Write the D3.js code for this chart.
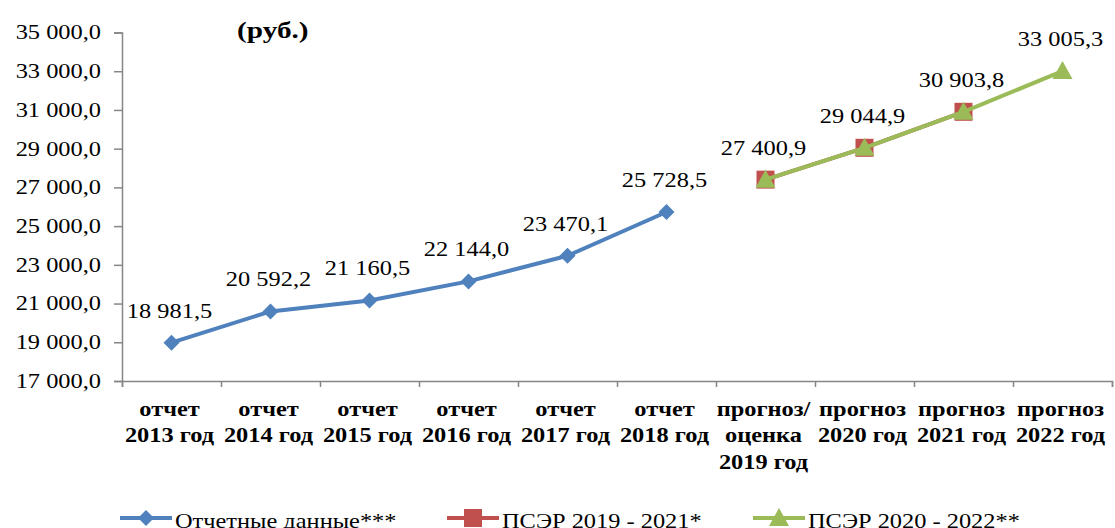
<!DOCTYPE html>
<html>
<head>
<meta charset="utf-8">
<script src="https://cdn.jsdelivr.net/npm/d3@7"></script>
<style>
    body { margin: 0; background: #fff; }
</style>
</head>
<body>
<svg id="chart"></svg>
<script>
//Categories (lines of each x label).
var categories = [
    ["отчет", "2013 год"],
    ["отчет", "2014 год"],
    ["отчет", "2015 год"],
    ["отчет", "2016 год"],
    ["отчет", "2017 год"],
    ["отчет", "2018 год"],
    ["прогноз/", "оценка", "2019 год"],
    ["прогноз", "2020 год"],
    ["прогноз", "2021 год"],
    ["прогноз", "2022 год"]
];

//Series values, null where a series has no point.
var reportValues = [18981.5, 20592.2, 21160.5, 22144.0, 23470.1, 25728.5, null, null, null, null];
var pscer2019Values = [null, null, null, null, null, null, 27400.9, 29044.9, 30903.8, null];
var pscer2020Values = [null, null, null, null, null, null, 27400.9, 29044.9, 30903.8, 33005.3];

var seriesNames = ["Отчетные данные***", "ПСЭР 2019 - 2021*", "ПСЭР 2020 - 2022**"];
var yTicks = [17000, 19000, 21000, 23000, 25000, 27000, 29000, 31000, 33000, 35000];

(function () {

    var width = 1115,
        height = 528,
        left = 122,
        right = 1112,
        top = 32.5,
        bottom = 381,
        sx = 1.22, //the source text is stretched horizontally
        font = "Liberation Serif, DejaVu Serif, serif";

    var svg = d3.select("#chart")
        .attr("width", width)
        .attr("height", height)
        .attr("font-family", font);

    //Number format with a space for thousands and a comma for decimals.
    var fmt = function (v) {
        var s = d3.format(",.1f")(v);
        return s.replace(",", " ").replace(".", ",");
    };

    var y = d3.scaleLinear().domain([17000, 35000]).range([bottom, top]);
    var xBand = d3.scaleBand().domain(d3.range(categories.length)).range([left, right]);
    var xEdge = d3.scaleLinear().domain([0, categories.length]).range([left, right]);
    var xc = function (i) { return xBand(i) + xBand.bandwidth() / 2; };

    //Y axis.
    var yAxis = svg.append("g")
        .attr("transform", "translate(" + left + ",0)")
        .call(d3.axisLeft(y).tickValues(yTicks).tickSize(8).tickFormat(fmt))
        .attr("font-family", font)
        .attr("font-size", 20);
    yAxis.select(".domain").attr("stroke", "#868686").attr("stroke-width", 1.5);
    yAxis.selectAll(".tick line").attr("stroke", "#868686").attr("stroke-width", 1.5);
    yAxis.selectAll(".tick text")
        .attr("fill", "#000")
        .attr("dy", "0.32em")
        .attr("transform", "scale(" + sx + ",1)")
        .attr("x", -21 / sx);

    //X axis line and tick marks at the band edges.
    var xAxis = svg.append("g")
        .attr("transform", "translate(0," + bottom + ")")
        .call(d3.axisBottom(xEdge).ticks(categories.length).tickSize(6).tickFormat(""));
    xAxis.select(".domain").attr("stroke", "#868686").attr("stroke-width", 1.5);
    xAxis.selectAll(".tick line").attr("stroke", "#868686").attr("stroke-width", 1.5);

    //X labels.
    var labels = svg.append("g").selectAll("text")
        .data(categories)
        .enter()
        .append("text")
        .attr("transform", function (d, i) { return "translate(" + (xc(i) - 2) + ",416) scale(" + sx + ",1)"; })
        .attr("text-anchor", "middle")
        .attr("font-size", 20)
        .attr("font-weight", "bold");
    labels.selectAll("tspan")
        .data(function (d) { return d; })
        .enter()
        .append("tspan")
        .attr("x", 0)
        .attr("y", function (d, i) { return i * 26.5; })
        .text(function (d) { return d; });

    //Unit title.
    svg.append("text")
        .attr("transform", "translate(237,38) scale(" + sx + ",1)")
        .attr("font-size", 24)
        .attr("font-weight", "bold")
        .text("(руб.)");

    var line = d3.line()
        .defined(function (d) { return d != null; })
        .x(function (d, i) { return xc(i); })
        .y(function (d) { return y(d); });

    var series = [
        { values: reportValues, color: "#4F81BD", marker: "diamond", labels: true },
        { values: pscer2019Values, color: "#C0504D", marker: "square", labels: false },
        { values: pscer2020Values, color: "#9BBB59", marker: "triangle", labels: true }
    ];

    function drawMarker(g, type, color) {
        if (type === "diamond") {
            g.append("path").attr("d", "M0,-8L8,0L0,8L-8,0Z").attr("fill", color);
        } else if (type === "square") {
            g.append("rect").attr("x", -9).attr("y", -9).attr("width", 18).attr("height", 18).attr("fill", color);
        } else {
            g.append("path").attr("d", "M0,-10L10,8L-10,8Z").attr("fill", color);
        }
    }

    series.forEach(function (s) {
        svg.append("path")
            .datum(s.values)
            .attr("fill", "none")
            .attr("stroke", s.color)
            .attr("stroke-width", 4)
            .attr("stroke-linejoin", "round")
            .attr("d", line);

        s.values.forEach(function (v, i) {
            if (v == null) return;
            var g = svg.append("g").attr("transform", "translate(" + xc(i) + "," + y(v) + ")");
            drawMarker(g, s.marker, s.color);
        });
    });

    //Data labels.
    series.forEach(function (s) {
        if (!s.labels) return;
        s.values.forEach(function (v, i) {
            if (v == null) return;
            svg.append("text")
                .attr("transform", "translate(" + (xc(i) - 2) + "," + (y(v) - 25) + ") scale(" + sx + ",1)")
                .attr("text-anchor", "middle")
                .attr("font-size", 20)
                .text(fmt(v));
        });
    });

    //Legend.
    var legendX = [120, 447, 753];
    series.forEach(function (s, i) {
        var g = svg.append("g").attr("transform", "translate(" + legendX[i] + ",518)");
        g.append("line")
            .attr("x1", 0).attr("x2", 52)
            .attr("stroke", s.color)
            .attr("stroke-width", 4);
        var m = g.append("g").attr("transform", "translate(26,0)");
        drawMarker(m, s.marker, s.color);
        g.append("text")
            .attr("transform", "translate(55,10) scale(" + sx + ",1)")
            .attr("font-size", 20)
            .text(seriesNames[i]);
    });

})();
</script>
</body>
</html>
